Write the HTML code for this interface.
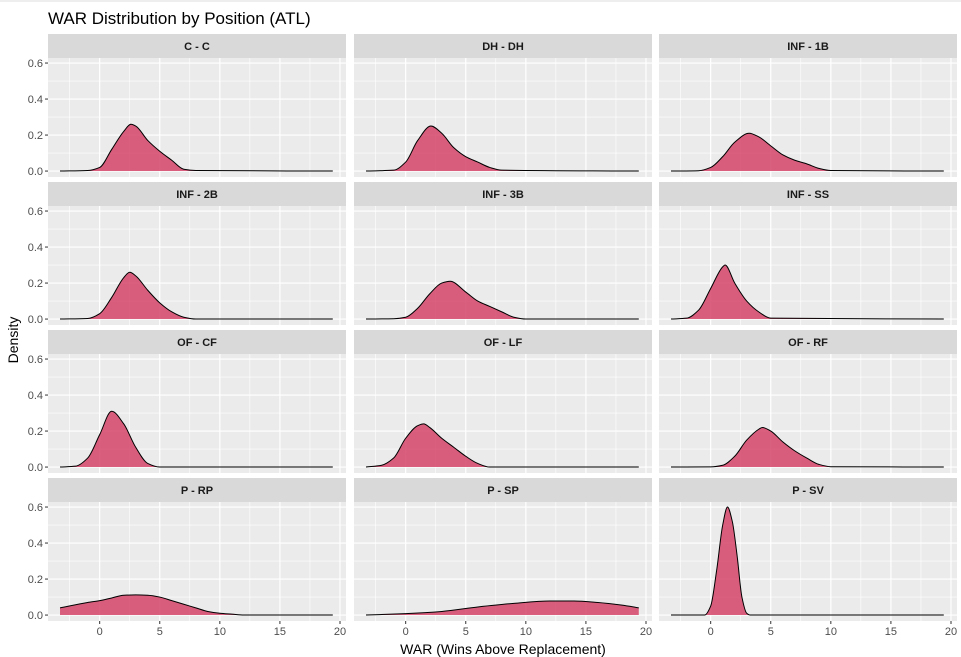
<!DOCTYPE html>
<html><head><meta charset="utf-8"><style>
html,body{margin:0;padding:0;background:#fff;}
svg{display:block;font-family:"Liberation Sans",Arial,sans-serif;}
</style></head><body>
<svg id="chart" width="961" height="657" viewBox="0 0 961 657">
<rect x="0" y="0" width="961" height="657" fill="#fff"/>
<line x1="0" y1="1" x2="961" y2="1" stroke="#ddd"/>
<text x="48" y="24" font-size="17" fill="#000">WAR Distribution by Position (ATL)</text>
<text x="503" y="654" font-size="14" fill="#000" text-anchor="middle">WAR (Wins Above Replacement)</text>
<text transform="translate(18,340) rotate(-90)" font-size="14" fill="#000" text-anchor="middle">Density</text>
<g id="panels"></g>
</svg>
<script>
const panelNames = ["C - C","DH - DH","INF - 1B","INF - 2B","INF - 3B","INF - SS","OF - CF","OF - LF","OF - RF","P - RP","P - SP","P - SV"];
const xC = [-3.3,-1,0,1,2,2.6,3,4,5,6,7,8,19.4];
const yC = [0,0.003,0.02,0.12,0.22,0.26,0.25,0.17,0.11,0.06,0.01,0.003,0];
const xDH = [-3.3,-1,0,1,2.1,3,4,5,6,7,8,19.4];
const yDH = [0,0.005,0.05,0.17,0.25,0.21,0.13,0.08,0.05,0.02,0.005,0];
const x1B = [-3.3,-1,0,1,2,3.2,4,5,6,7,8,9,10,19.4];
const y1B = [0,0.002,0.02,0.08,0.16,0.21,0.19,0.14,0.09,0.06,0.04,0.015,0.003,0];
const x2B = [-3.3,-1,0,1,2,2.5,3,4,5,6,7,8,19.4];
const y2B = [0,0.003,0.03,0.12,0.23,0.26,0.24,0.16,0.09,0.04,0.01,0,0];
const x3B = [-3.3,-1,0,1,2,3,3.7,5,6,7,8,9,10,19.4];
const y3B = [0,0.002,0.01,0.06,0.14,0.2,0.21,0.15,0.1,0.07,0.04,0.01,0,0];
const xSS = [-3.3,-2,-1,0,1,1.2,2,3,4,5,19.4];
const ySS = [0,0.005,0.05,0.17,0.29,0.3,0.2,0.1,0.04,0.005,0];
const xCF = [-3.3,-2,-1,0,1,2,3,4,5,19.4];
const yCF = [0,0.005,0.05,0.18,0.31,0.24,0.11,0.02,0,0];
const xLF = [-3.3,-2,-1,0,1,1.5,2,3,4,5,6,7,19.4];
const yLF = [0,0.01,0.05,0.16,0.23,0.24,0.22,0.16,0.11,0.06,0.02,0,0];
const xRF = [-3.3,0,1,2,3,4,4.3,5,6,7,8,9,10,19.4];
const yRF = [0,0.001,0.01,0.06,0.15,0.21,0.22,0.2,0.14,0.09,0.05,0.015,0.002,0];
const xRP = [-3.3,-1,0,1,2,3,4,5,6,7,8,9,10,11,12,19.4];
const yRP = [0.04,0.07,0.08,0.095,0.11,0.112,0.11,0.1,0.08,0.06,0.04,0.02,0.01,0.005,0,0];
const xSP = [-3.3,0,3,6,9,12,14,16,18,19.4];
const ySP = [0,0.008,0.02,0.045,0.065,0.078,0.078,0.07,0.055,0.04];
const xSV = [-3.3,-0.5,0,0.5,1,1.4,1.8,2.2,2.6,3,3.3,19.4];
const ySV = [0,0,0.05,0.25,0.5,0.6,0.52,0.33,0.1,0.01,0,0];
const seriesX = [xC,xDH,x1B,x2B,x3B,xSS,xCF,xLF,xRF,xRP,xSP,xSV];
const seriesY = [yC,yDH,y1B,y2B,y3B,ySS,yCF,yLF,yRF,yRP,ySP,ySV];
const xTicks = [0,5,10,15,20];
const xMinor = [-2.5,2.5,7.5,12.5,17.5];
const yTicks = [0,0.2,0.4,0.6];
const yMinor = [0.1,0.3,0.5];

const NS = "http://www.w3.org/2000/svg";
const root = document.getElementById("panels");
function mk(tag, attrs, parent){const e=document.createElementNS(NS,tag);for(const k in attrs)e.setAttribute(k,attrs[k]);parent.appendChild(e);return e;}
const colX=[48,354,659], PW=298, stripTop=34, rowStep=148, stripH=24, PH=119;
const xMin=-4.3, xMax=20.5, yMin=-0.033, yMax=0.628;

// monotone cubic (Fritsch-Carlson) path
function monoPath(P){
  const n=P.length, dx=[], m=[], t=[];
  for(let k=0;k<n-1;k++){dx.push(P[k+1][0]-P[k][0]); m.push((P[k+1][1]-P[k][1])/dx[k]);}
  t[0]=m[0]; t[n-1]=m[n-2];
  for(let k=1;k<n-1;k++){
    if(m[k-1]*m[k]<=0) t[k]=0;
    else{const w1=2*dx[k]+dx[k-1], w2=dx[k]+2*dx[k-1]; t[k]=(w1+w2)/(w1/m[k-1]+w2/m[k]);}
  }
  let d="M"+P[0][0]+","+P[0][1];
  for(let k=0;k<n-1;k++){
    const h=dx[k]/3;
    d+=" C"+(P[k][0]+h)+","+(P[k][1]+t[k]*h)+" "+(P[k+1][0]-h)+","+(P[k+1][1]-t[k+1]*h)+" "+P[k+1][0]+","+P[k+1][1];
  }
  return d;
}

panelNames.forEach((name,i)=>{
  const c=i%3, r=Math.floor(i/3);
  const px=colX[c], sy=stripTop+r*rowStep, py=sy+stripH;
  const sx=v=>px+(v-xMin)/(xMax-xMin)*PW;
  const syv=v=>py+PH-(v-yMin)/(yMax-yMin)*PH;
  const g=mk("g",{},root);
  
  
  const strip=mk("rect",{x:px,y:sy,width:PW,height:stripH,fill:"#d9d9d9"},g);
  
  
  const st=mk("text",{x:px+PW/2,y:sy+16,"font-size":"11","font-weight":"bold",fill:"#1a1a1a","text-anchor":"middle"},g);
  st.textContent=name;
  
  
  const bg=mk("rect",{x:px,y:py,width:PW,height:PH,fill:"#ebebeb"},g);
  
  
  xMinor.forEach(v=>mk("line",{x1:sx(v),x2:sx(v),y1:py,y2:py+PH,stroke:"#fff","stroke-width":"0.6"},g));
  yMinor.forEach(v=>mk("line",{x1:px,x2:px+PW,y1:syv(v),y2:syv(v),stroke:"#fff","stroke-width":"0.6"},g));
  xTicks.forEach(v=>mk("line",{x1:sx(v),x2:sx(v),y1:py,y2:py+PH,stroke:"#fff","stroke-width":"1.2"},g));
  yTicks.forEach(v=>mk("line",{x1:px,x2:px+PW,y1:syv(v),y2:syv(v),stroke:"#fff","stroke-width":"1.2"},g));
  const xs=seriesX[i], ys=seriesY[i];
  const pts=xs.map((x,k)=>[sx(x),syv(ys[k])]);
  const d=monoPath(pts);
  const area=mk("path",{d:d+" L"+pts[pts.length-1][0]+","+syv(0)+" L"+pts[0][0]+","+syv(0)+"Z",fill:"#d5446a","fill-opacity":"0.85",stroke:"none"},g);
  
  
  const line=mk("path",{d:d,fill:"none",stroke:"#000","stroke-width":"1"},g);
  
  
  if(c===0){
    yTicks.forEach(v=>{
      mk("line",{x1:px-3,x2:px,y1:syv(v),y2:syv(v),stroke:"#333","stroke-width":"1"},g);
      const t=mk("text",{x:px-5,y:syv(v)+4,"font-size":"11",fill:"#4d4d4d","text-anchor":"end"},g);
      t.textContent=v.toFixed(1);
      
      
    });
  }
  if(r===3){
    xTicks.forEach(v=>{
      mk("line",{x1:sx(v),x2:sx(v),y1:py+PH,y2:py+PH+3,stroke:"#333","stroke-width":"1"},g);
      const t=mk("text",{x:sx(v),y:py+PH+14,"font-size":"11",fill:"#4d4d4d","text-anchor":"middle"},g);
      t.textContent=v;
      
      
    });
  }
});
</script>
</body></html>
